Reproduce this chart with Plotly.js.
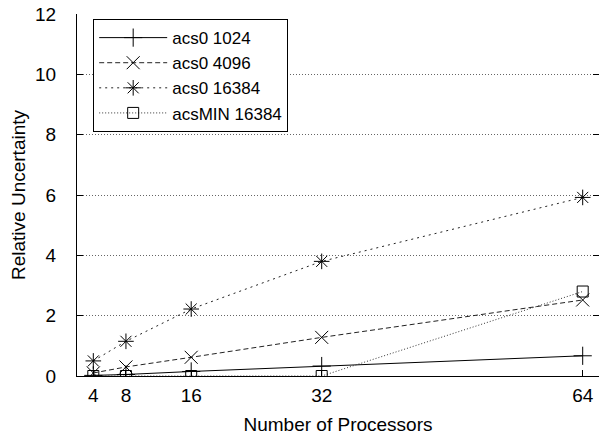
<!DOCTYPE html>
<html>
<head>
<meta charset="utf-8">
<script src="https://cdn.plot.ly/plotly-3.0.1.min.js"></script>
<style>html,body{margin:0;padding:0;background:#fff;}#chart{width:601px;height:435px;}</style>
</head>
<body>
<div id="chart"></div>
<script>
const processors = [4, 8, 16, 32, 64];
const acs0_1024 = [0.02, 0.05, 0.15, 0.33, 0.67];
const acs0_4096 = [0.1, 0.3, 0.62, 1.28, 2.52];
const acs0_16384 = [0.5, 1.15, 2.22, 3.8, 5.92];
const acsMIN_16384 = [0.0, 0.0, 0.0, 0.0, 2.8];
const seriesNames = ["acs0 1024", "acs0 4096", "acs0 16384", "acsMIN 16384"];
const yTicks = [0, 2, 4, 6, 8, 10, 12];

const styles = [
  {dash: "solid", symbol: "cross-thin-open", size: 13, color: "#000"},
  {dash: "5px,3px", symbol: "x-thin-open", size: 13, color: "#222"},
  {dash: "2px,4px", symbol: "asterisk-open", size: 13, color: "#222"},
  {dash: "1px,2px", symbol: "square-open", size: 11, color: "#333"}
];
const seriesData = [acs0_1024, acs0_4096, acs0_16384, acsMIN_16384];

const traces = seriesData.map((ys, i) => ({
  x: processors, y: ys, name: seriesNames[i], type: "scatter", mode: "lines+markers",
  line: {color: styles[i].color, width: 1, dash: styles[i].dash},
  marker: {symbol: styles[i].symbol, size: styles[i].size, color: "#000", line: {width: 1, color: "#000"}}
}));
traces.push({x: [processors[0]], y: [0], yaxis: "y2", showlegend: false, hoverinfo: "skip",
  mode: "markers", marker: {opacity: 0}});

const font = {family: "Liberation Sans, Arial, sans-serif", size: 19, color: "#000"};
const legendFont = {family: "Liberation Sans, Arial, sans-serif", size: 17, color: "#000"};
const layout = {
  width: 601, height: 435,
  margin: {l: 77, r: 2, t: 14, b: 59},
  paper_bgcolor: "#fff", plot_bgcolor: "#fff",
  font: font,
  showlegend: true,
  legend: {x: 0.031, y: 0.986, xanchor: "left", yanchor: "top", bgcolor: "#fff",
    bordercolor: "#000", borderwidth: 1, itemwidth: 68, font: legendFont, tracegroupgap: 0},
  xaxis: {range: [2, 66], tickvals: processors, ticktext: processors.map(String),
    ticks: "inside", ticklen: 6, tickcolor: "#000", showline: true, linecolor: "#000", linewidth: 1,
    showgrid: false, zeroline: false, tickfont: font, ticklabelstandoff: 2,
    title: {text: "Number of Processors", font: font, standoff: 12}},
  yaxis: {range: [0, 12], tickvals: yTicks, ticks: "inside", ticklen: 6, tickcolor: "#000",
    showline: true, linecolor: "#000", linewidth: 1, showgrid: true, gridcolor: "#666",
    griddash: "1px,2px", gridwidth: 1, zeroline: false, tickfont: font, ticklabelstandoff: 16,
    title: {text: "Relative Uncertainty", font: font, standoff: 4}},
  yaxis2: {range: [0, 12], tickvals: yTicks, overlaying: "y", side: "right", ticks: "inside",
    ticklen: 6, tickcolor: "#000", showticklabels: false, showgrid: false, showline: false, zeroline: false}
};
Plotly.newPlot("chart", traces, layout, {displayModeBar: false, staticPlot: true});
</script>
</body>
</html>
